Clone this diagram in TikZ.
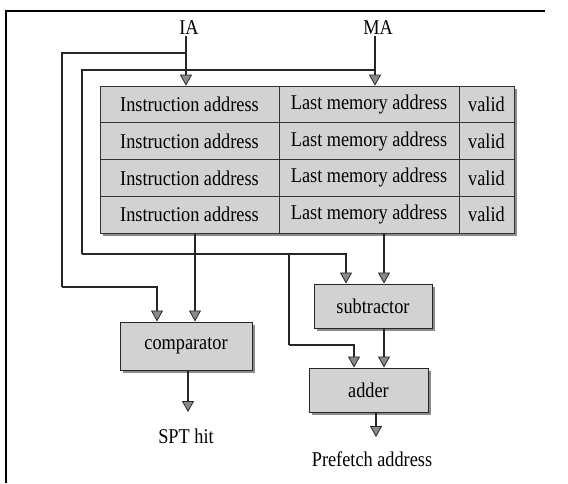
\documentclass[tikz,border=0pt]{standalone}
\usepackage{fontspec}
\setmainfont{Liberation Serif}
\usetikzlibrary{arrows.meta}
\definecolor{boxfill}{HTML}{D2D2D2}
\definecolor{shadowc}{HTML}{8C8C8C}
\definecolor{tipfill}{HTML}{8A8A8A}
\newcommand{\tx}[1]{\scalebox{0.87}[1]{#1}}
\tikzset{
  wire/.style={line width=1.8pt, draw=black!85},
  arr/.style={wire, -{Triangle[width=12pt,length=11pt,fill=tipfill,line width=0.8pt]}},
  cell/.style={draw=black!80, line width=0.7pt, fill=boxfill, inner sep=0pt, anchor=center},
  unit/.style={draw=black!85, line width=1pt, fill=boxfill, inner sep=0pt},
  shadowbox/.style={fill=shadowc, draw=none},
  lbl/.style={inner sep=1pt},
}
\begin{document}
\begin{tikzpicture}[x=1pt,y=-1pt,font=\fontsize{21}{23}\selectfont]
\useasboundingbox (0,0) rectangle (568,483);
\fill[white] (0,0) rectangle (568,483);
% frame
\draw[line width=1.5pt] (6,483) -- (6,11) -- (545,11);
% table shadow and cells
\fill[shadowbox] (103,89) rectangle (517,236);
\node[cell, minimum width=414pt, minimum height=147pt] (tab) at (307,159.5) {};
\foreach \r/\y in {1/104.375,2/141.125,3/177.875,4/214.625}{
  \node[cell, minimum width=179pt, minimum height=36.75pt] (r\r c1) at (189.5,\y) {\tx{Instruction address}};
  \node[cell, minimum width=180pt, minimum height=36.75pt] (r\r c2) at (369,\y) {\tx{Last memory address}};
  \node[cell, minimum width=55pt, minimum height=36.75pt] (r\r c3) at (486.5,\y) {\tx{valid}};
}
% functional units
\fill[shadowbox] (123,325) rectangle (255,373);
\node[unit, minimum width=132pt, minimum height=48pt] (cmp) at (186,346) {\tx{comparator}};
\fill[shadowbox] (317,287) rectangle (435,331);
\node[unit, minimum width=118pt, minimum height=44pt] (sub) at (373,306) {\tx{subtractor}};
\fill[shadowbox] (312,371) rectangle (431,415);
\node[unit, minimum width=119pt, minimum height=44pt] (add) at (368.5,390) {\tx{adder}};
% labels
\node[lbl] (ia) at (189,28) {\tx{IA}};
\node[lbl] (ma) at (378,28) {\tx{MA}};
\node[lbl] (hit) at (186,436) {\tx{SPT hit}};
\node[lbl] (pf) at (372,459) {\tx{Prefetch address}};
% junction coordinates
\coordinate (j1) at (186,53);
\coordinate (j2) at (375,70);
\coordinate (k1) at (62,287);
\coordinate (k2) at (82,254);
\coordinate (j3) at (289,254);
\coordinate (k3) at (289,345);
% IA and MA into table
\draw[arr] (ia.south -| j1) -- (j1 |- tab.north);
\draw[arr] (ma.south -| j2) -- (j2 |- tab.north);
% IA loop to comparator
\draw[wire] (j1) -| (k1);
\draw[arr] (k1) -| ([xshift=-29pt]cmp.north);
% table instruction address to comparator
\draw[arr] ([xshift=9pt]cmp.north |- tab.south) -- ([xshift=9pt]cmp.north);
% MA loop to subtractor
\draw[wire] (j2) -| (k2);
\draw[arr] (k2) -| ([xshift=-27pt]sub.north);
% last memory address to subtractor
\draw[arr] ([xshift=11pt]sub.north |- tab.south) -- ([xshift=11pt]sub.north);
% MA branch to adder
\draw[wire] (j3) -- (k3);
\draw[arr] (k3) -| ([xshift=-14.5pt]add.north);
% subtractor to adder
\draw[arr] ([xshift=11pt]sub.south) -- ([xshift=15.5pt]add.north);
% outputs
\draw[arr] ([xshift=2pt]cmp.south) -- ([xshift=2pt]cmp.south |- 0,412);
\draw[arr] ([xshift=7.5pt]add.south) -- ([xshift=7.5pt]add.south |- 0,437);
\end{tikzpicture}
\end{document}
